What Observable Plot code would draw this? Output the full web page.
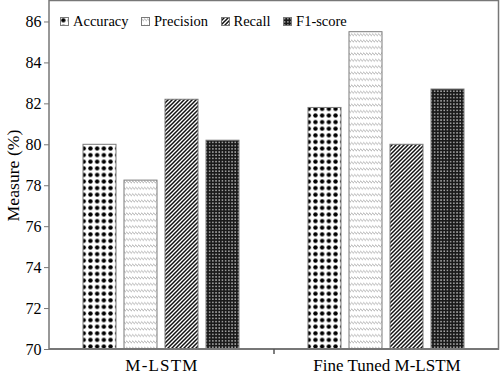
<!DOCTYPE html>
<html>
<head>
<meta charset="utf-8">
<script src="https://cdn.jsdelivr.net/npm/d3@7"></script>
<script src="https://cdn.jsdelivr.net/npm/@observablehq/plot@0.6"></script>
<style>
  body { margin: 0; background: #fff; }
  #wrap { position: relative; width: 500px; height: 380px; font-family: 'Liberation Serif', 'Times New Roman', serif; }
  #legend { position: absolute; top: 13px; left: 60px; display: flex; align-items: center; font-size: 14.5px; line-height: 16px; color: #000; }
  #legend .item { display: flex; align-items: center; margin-right: 12.5px; }
  #legend svg { margin-right: 4px; display: block; }
</style>
</head>
<body>
<div id="wrap"><div id="legend"></div></div>
<script>
const categories = ["M-LSTM", "Fine Tuned M-LSTM"];
const metrics = ["Accuracy", "Precision", "Recall", "F1-score"];
const mlstm = [80.0, 78.25, 82.2, 80.2];
const fineTuned = [81.8, 85.5, 80.0, 82.7];
const yTicks = [70, 72, 74, 76, 78, 80, 82, 84, 86];
const yLabel = "Measure (%)";

const series = [mlstm, fineTuned];
const data = categories.flatMap((c, i) => metrics.map((m, j) => ({cat: c, metric: m, value: series[i][j]})));
const patternIds = metrics.map((m, i) => `pat${i}`);

const fig = Plot.plot({
  width: 500, height: 380,
  marginLeft: 49, marginRight: 1, marginTop: 1, marginBottom: 31,
  style: {fontFamily: "'Liberation Serif', 'Times New Roman', serif", fontSize: "16px", color: "#000", background: "#fff", overflow: "visible"},
  y: {domain: [70, 87], ticks: yTicks, tickSize: 5, tickPadding: 3, label: yLabel, labelAnchor: "center", labelOffset: 43, labelArrow: false},
  fx: {domain: categories, padding: 0, label: null, tickSize: 0, tickPadding: 9},
  x: {domain: metrics, paddingInner: 0.195, paddingOuter: 0.84, axis: null},
  color: {domain: metrics, range: patternIds.map(id => `url(#${id})`)},
  marks: [
    Plot.barY(data, {fx: "cat", x: "metric", y1: 70, y2: "value", fill: "metric", stroke: "#7a7a7a", strokeWidth: 1})
  ]
});

const svg = d3.select(fig);
// text sizing
svg.selectAll("text").each(function() {
  const t = d3.select(this);
  const s = t.text();
  if (s.startsWith("Measure")) { t.text(yLabel).style("font-size", "17.7px"); }
  else if (s === categories[0]) { t.style("font-size", "17px").style("letter-spacing", "1.2px"); }
  else if (categories.includes(s)) { t.style("font-size", "17px"); }
  else if (/^\d+$/.test(s)) { t.style("font-size", "16px"); }
});
svg.selectAll('[aria-label^="y-axis tick"] path, [aria-label="y-axis tick"] path').attr("stroke", "#777");

// pattern definitions
const defs = svg.insert("defs", ":first-child");
let p = defs.append("pattern").attr("id", "pat0").attr("patternUnits", "userSpaceOnUse").attr("width", 6.7).attr("height", 6.6);
p.append("rect").attr("width", 6.7).attr("height", 6.6).attr("fill", "#fff");
p.append("circle").attr("cx", 3.35).attr("cy", 3.3).attr("r", 2.2).attr("fill", "#000");
p = defs.append("pattern").attr("id", "pat1").attr("patternUnits", "userSpaceOnUse").attr("width", 3).attr("height", 6.4);
p.append("rect").attr("width", 3).attr("height", 6.4).attr("fill", "#fff");
p.append("path").attr("d", "M0,1.6 L3,3.8").attr("stroke", "#9a9a9a").attr("stroke-width", 0.9);
p = defs.append("pattern").attr("id", "pat2").attr("patternUnits", "userSpaceOnUse").attr("width", 4).attr("height", 4);
p.append("rect").attr("width", 4).attr("height", 4).attr("fill", "#fff");
p.append("path").attr("d", "M-1,1 L1,-1 M0,4 L4,0 M3,5 L5,3").attr("stroke", "#111").attr("stroke-width", 1.5);
p = defs.append("pattern").attr("id", "pat3").attr("patternUnits", "userSpaceOnUse").attr("width", 3.2).attr("height", 3.2);
p.append("rect").attr("width", 3.2).attr("height", 3.2).attr("fill", "#1a1a1a");
p.append("rect").attr("x", 1).attr("y", 1).attr("width", 1.3).attr("height", 1.3).attr("fill", "#d8d8d8");

// frame and category boundary tick from the scales
const fx = fig.scale("fx");
const y = fig.scale("y");
const x0 = fx.range[0], x1 = fx.range[1];
const yTop = Math.min(...y.range), yBot = Math.max(...y.range);
svg.append("rect").attr("x", x0).attr("y", yTop - 0.5).attr("width", x1 - x0 - 0.5).attr("height", yBot - yTop + 0.5)
  .attr("fill", "none").attr("stroke", "#777").attr("stroke-width", 1.5);
svg.append("line").attr("x1", x0).attr("x2", x1).attr("y1", yBot).attr("y2", yBot).attr("stroke", "#777").attr("stroke-width", 2);
categories.slice(1).forEach(c => {
  const xb = fx.apply(c);
  svg.append("line").attr("x1", xb).attr("x2", xb).attr("y1", yBot).attr("y2", yBot + 5).attr("stroke", "#555").attr("stroke-width", 1.5);
});

document.getElementById("wrap").prepend(fig);

// legend
const legend = d3.select("#legend");
metrics.forEach((m, i) => {
  const item = legend.append("div").attr("class", "item");
  const s = item.append("svg").attr("width", 9).attr("height", 9);
  s.append("rect").attr("x", 0.5).attr("y", 0.5).attr("width", 8).attr("height", 8)
    .attr("fill", fig.scale("color").apply(m)).attr("stroke", "#7a7a7a").attr("stroke-width", 1);
  item.append("span").text(m);
});
</script>
</body>
</html>
